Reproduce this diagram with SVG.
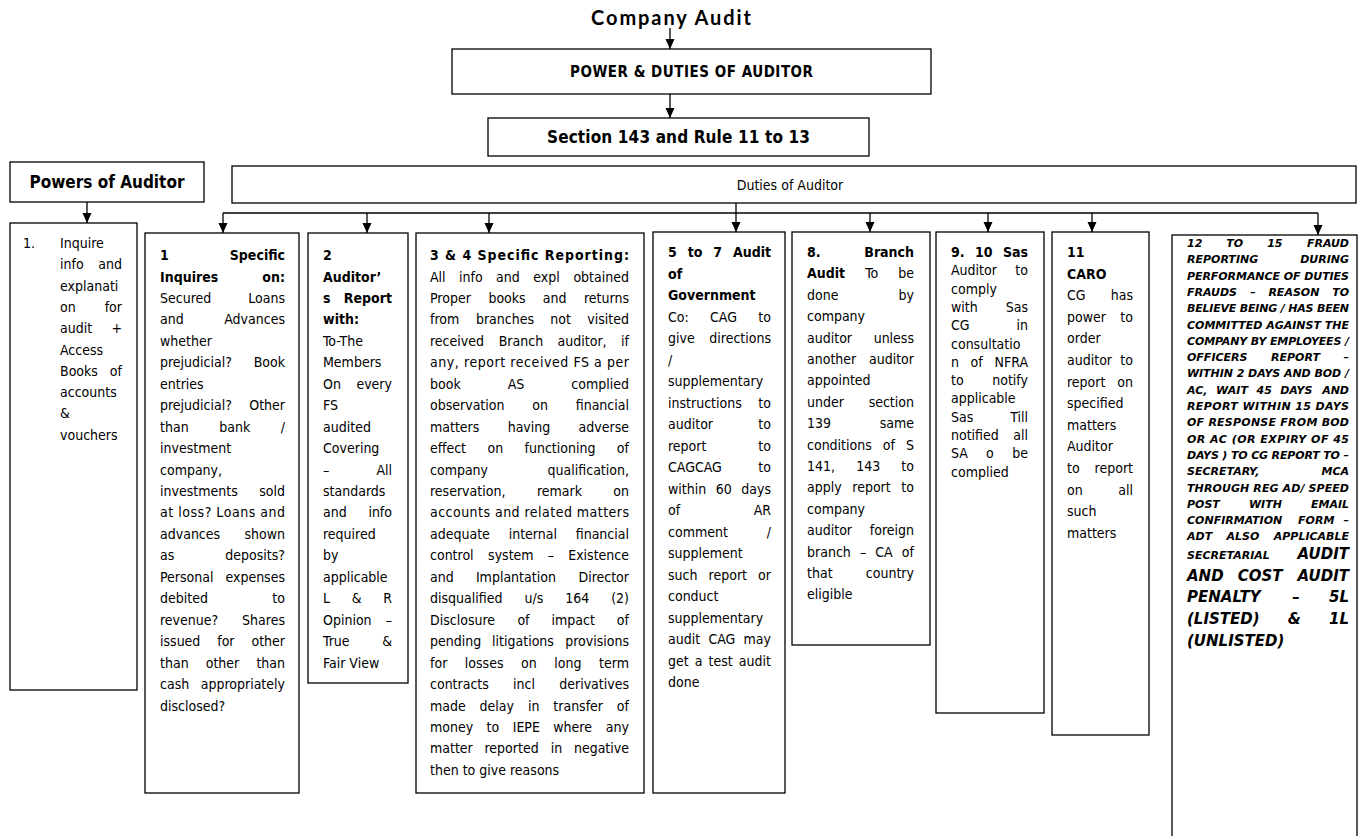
<svg xmlns="http://www.w3.org/2000/svg" width="1363" height="836" viewBox="0 0 1363 836">
<style>
.box{fill:#fff;stroke:#000;stroke-width:1.3}
.t{font-family:"DejaVu Sans Condensed","DejaVu Sans",sans-serif;font-stretch:condensed;font-size:14px;fill:#000}
.b{font-weight:bold}
.e{text-anchor:end}
.m{text-anchor:middle}
.f{font-family:"DejaVu Sans",sans-serif;font-weight:bold;font-style:italic;font-size:11px;fill:#000}
.fl{font-size:15px}
.conn{stroke:#000;stroke-width:1.3;fill:none}
.arr{marker-end:url(#arrow)}
.title{font-family:Lato,"DejaVu Sans",sans-serif;font-weight:bold;font-size:20px;text-anchor:middle;fill:#000}
</style>
<defs>
<marker id="arrow" viewBox="0 0 10 10" refX="10" refY="5" markerWidth="10" markerHeight="10" markerUnits="userSpaceOnUse" orient="auto">
<path d="M0,0.5 L10,5 L0,9.5 z" fill="#000"/>
</marker>
</defs>
<rect width="1363" height="836" fill="#fff"/>

<!-- connectors -->
<g id="connectors">
<path class="conn arr" d="M670,28 V49"/>
<path class="conn arr" d="M670,94 V118"/>
<path class="conn arr" d="M87,202 V223"/>
<path class="conn" d="M223,213 H1318"/>
<path class="conn arr" d="M736,203 V232"/>
<path class="conn arr" d="M223,213 V233"/>
<path class="conn arr" d="M367,213 V233"/>
<path class="conn arr" d="M489,213 V233"/>
<path class="conn arr" d="M870,213 V232"/>
<path class="conn arr" d="M988,213 V232"/>
<path class="conn arr" d="M1092,213 V232"/>
<path class="conn arr" d="M1318,213 V235"/>
</g>

<g id="title">
<text class="title" x="671" y="25" textLength="160" lengthAdjust="spacing">Company Audit</text>
</g>

<g id="power-duties">
<rect class="box" x="452" y="49" width="479" height="45"/>
<text class="t b m" x="691.5" y="77" style="font-size:15px" textLength="243" lengthAdjust="spacing">POWER &amp; DUTIES OF AUDITOR</text>
</g>

<g id="section">
<rect class="box" x="488" y="118" width="381" height="38"/>
<text class="t b m" x="678.5" y="143" style="font-size:17px" textLength="263" lengthAdjust="spacing">Section 143 and Rule 11 to 13</text>
</g>

<g id="powers">
<rect class="box" x="10" y="162" width="194" height="40"/>
<text class="t b m" x="107" y="188" style="font-size:17px">Powers of Auditor</text>
</g>

<g id="duties">
<rect class="box" x="232" y="166" width="1124" height="37"/>
<text class="t m" x="790" y="190">Duties of Auditor</text>
</g>

<!-- powers list -->
<g id="powers-list">
<rect class="box" x="10" y="223" width="127" height="467"/>
<text class="t" x="23" y="248">1.</text>
<text class="t" x="60" y="248">Inquire</text>
<text class="t" x="60" y="269.3">info</text><text class="t e" x="122" y="269.3">and</text>
<text class="t" x="60" y="290.6">explanati</text>
<text class="t" x="60" y="311.9">on</text><text class="t e" x="122" y="311.9">for</text>
<text class="t" x="60" y="333.2">audit</text><text class="t e" x="122" y="333.2">+</text>
<text class="t" x="60" y="354.5">Access</text>
<text class="t" x="60" y="375.8">Books</text><text class="t e" x="122" y="375.8">of</text>
<text class="t" x="60" y="397.1">accounts</text>
<text class="t" x="60" y="418.4">&amp;</text>
<text class="t" x="60" y="439.7">vouchers</text>
</g>

<!-- 1 Specific Inquires -->
<g id="duty-1">
<rect class="box" x="145" y="233" width="154" height="560"/>
<text class="t b" x="160" y="260">1</text><text class="t b e" x="285" y="260">Specific</text>
<text class="t b" x="160" y="281.5">Inquires</text><text class="t b e" x="285" y="281.5">on:</text>
<text class="t" x="160" y="302.9">Secured</text><text class="t e" x="285" y="302.9">Loans</text>
<text class="t" x="160" y="324.4">and</text><text class="t e" x="285" y="324.4">Advances</text>
<text class="t" x="160" y="345.8">whether</text>
<text class="t" x="160" y="367.3">prejudicial?</text><text class="t e" x="285" y="367.3">Book</text>
<text class="t" x="160" y="388.7">entries</text>
<text class="t" x="160" y="410.2">prejudicial?</text><text class="t e" x="285" y="410.2">Other</text>
<text class="t" x="160" y="431.6">than</text><text class="t m" x="234.7" y="431.6">bank</text><text class="t e" x="285" y="431.6">/</text>
<text class="t" x="160" y="453.1">investment</text>
<text class="t" x="160" y="474.5">company,</text>
<text class="t" x="160" y="496">investments</text><text class="t e" x="285" y="496">sold</text>
<text class="t" x="160" y="517.4" textLength="125" lengthAdjust="spacing">at loss? Loans and</text>
<text class="t" x="160" y="538.9">advances</text><text class="t e" x="285" y="538.9">shown</text>
<text class="t" x="160" y="560.3">as</text><text class="t e" x="285" y="560.3">deposits?</text>
<text class="t" x="160" y="581.8">Personal</text><text class="t e" x="285" y="581.8">expenses</text>
<text class="t" x="160" y="603.2">debited</text><text class="t e" x="285" y="603.2">to</text>
<text class="t" x="160" y="624.7">revenue?</text><text class="t e" x="285" y="624.7">Shares</text>
<text class="t" x="160" y="646.1">issued</text><text class="t m" x="225.9" y="646.1">for</text><text class="t e" x="285" y="646.1">other</text>
<text class="t" x="160" y="667.6">than</text><text class="t m" x="222.5" y="667.6">other</text><text class="t e" x="285" y="667.6">than</text>
<text class="t" x="160" y="689">cash</text><text class="t e" x="285" y="689">appropriately</text>
<text class="t" x="160" y="710.5">disclosed?</text>
</g>

<!-- 2 Auditor's Report -->
<g id="duty-2">
<rect class="box" x="308" y="233" width="100" height="450"/>
<text class="t b" x="323" y="260">2</text>
<text class="t b" x="323" y="281.5">Auditor’</text>
<text class="t b" x="323" y="302.9">s</text><text class="t b e" x="392" y="302.9">Report</text>
<text class="t b" x="323" y="324.4">with:</text>
<text class="t" x="323" y="345.8">To-The</text>
<text class="t" x="323" y="367.3">Members</text>
<text class="t" x="323" y="388.7">On</text><text class="t e" x="392" y="388.7">every</text>
<text class="t" x="323" y="410.2">FS</text>
<text class="t" x="323" y="431.6">audited</text>
<text class="t" x="323" y="453.1">Covering</text>
<text class="t" x="323" y="474.5">–</text><text class="t e" x="392" y="474.5">All</text>
<text class="t" x="323" y="496">standards</text>
<text class="t" x="323" y="517.4">and</text><text class="t e" x="392" y="517.4">info</text>
<text class="t" x="323" y="538.9">required</text>
<text class="t" x="323" y="560.3">by</text>
<text class="t" x="323" y="581.8">applicable</text>
<text class="t" x="323" y="603.2">L</text><text class="t m" x="356.6" y="603.2">&amp;</text><text class="t e" x="392" y="603.2">R</text>
<text class="t" x="323" y="624.7">Opinion</text><text class="t e" x="392" y="624.7">–</text>
<text class="t" x="323" y="646.1">True</text><text class="t e" x="392" y="646.1">&amp;</text>
<text class="t" x="323" y="667.6">Fair View</text>
</g>

<!-- 3 & 4 Specific Reporting -->
<g id="duty-3-4">
<rect class="box" x="416" y="233" width="228" height="560"/>
<text class="t b" x="430" y="260" textLength="199" lengthAdjust="spacing">3 &amp; 4 Specific Reporting:</text>
<text class="t" x="430" y="281.5">All</text><text class="t" x="459.1" y="281.5">info</text><text class="t" x="496.1" y="281.5">and</text><text class="t" x="533.3" y="281.5">expl</text><text class="t e" x="629" y="281.5">obtained</text>
<text class="t" x="430" y="302.9">Proper</text><text class="t" x="488.4" y="302.9">books</text><text class="t" x="542.7" y="302.9">and</text><text class="t e" x="629" y="302.9">returns</text>
<text class="t" x="430" y="324.4">from</text><text class="t" x="475.9" y="324.4">branches</text><text class="t" x="550.3" y="324.4">not</text><text class="t e" x="629" y="324.4">visited</text>
<text class="t" x="430" y="345.8">received</text><text class="t" x="498.7" y="345.8">Branch</text><text class="t" x="557.6" y="345.8">auditor,</text><text class="t e" x="629" y="345.8">if</text>
<text class="t" x="430" y="367.3" textLength="199" lengthAdjust="spacing">any, report received FS a per</text>
<text class="t" x="430" y="388.7">book</text><text class="t m" x="516" y="388.7">AS</text><text class="t e" x="629" y="388.7">complied</text>
<text class="t" x="430" y="410.2">observation</text><text class="t m" x="540.1" y="410.2">on</text><text class="t e" x="629" y="410.2">financial</text>
<text class="t" x="430" y="431.6">matters</text><text class="t m" x="529" y="431.6">having</text><text class="t e" x="629" y="431.6">adverse</text>
<text class="t" x="430" y="453.1">effect</text><text class="t" x="487.5" y="453.1">on</text><text class="t" x="524.5" y="453.1">functioning</text><text class="t e" x="629" y="453.1">of</text>
<text class="t" x="430" y="474.5">company</text><text class="t e" x="629" y="474.5">qualification,</text>
<text class="t" x="430" y="496">reservation,</text><text class="t m" x="559.5" y="496">remark</text><text class="t e" x="629" y="496">on</text>
<text class="t" x="430" y="517.4" textLength="199" lengthAdjust="spacing">accounts and related matters</text>
<text class="t" x="430" y="538.9">adequate</text><text class="t m" x="532.8" y="538.9">internal</text><text class="t e" x="629" y="538.9">financial</text>
<text class="t" x="430" y="560.3">control</text><text class="t" x="488.1" y="560.3">system</text><text class="t" x="547.7" y="560.3">–</text><text class="t e" x="629" y="560.3">Existence</text>
<text class="t" x="430" y="581.8">and</text><text class="t m" x="515.9" y="581.8">Implantation</text><text class="t e" x="629" y="581.8">Director</text>
<text class="t" x="430" y="603.2">disqualified</text><text class="t" x="524.5" y="603.2">u/s</text><text class="t" x="565.3" y="603.2">164</text><text class="t e" x="629" y="603.2">(2)</text>
<text class="t" x="430" y="624.7">Disclosure</text><text class="t" x="517.4" y="624.7">of</text><text class="t" x="551.5" y="624.7">impact</text><text class="t e" x="629" y="624.7">of</text>
<text class="t" x="430" y="646.1">pending</text><text class="t m" x="523" y="646.1">litigations</text><text class="t e" x="629" y="646.1">provisions</text>
<text class="t" x="430" y="667.6">for</text><text class="t" x="464.8" y="667.6">losses</text><text class="t" x="521" y="667.6">on</text><text class="t" x="554.2" y="667.6">long</text><text class="t e" x="629" y="667.6">term</text>
<text class="t" x="430" y="689">contracts</text><text class="t m" x="524" y="689">incl</text><text class="t e" x="629" y="689">derivatives</text>
<text class="t" x="430" y="710.5">made</text><text class="t" x="479.6" y="710.5">delay</text><text class="t" x="527.9" y="710.5">in</text><text class="t" x="553.3" y="710.5">transfer</text><text class="t e" x="629" y="710.5">of</text>
<text class="t" x="430" y="731.9">money</text><text class="t" x="486.6" y="731.9">to</text><text class="t" x="512.7" y="731.9">IEPE</text><text class="t" x="553.3" y="731.9">where</text><text class="t e" x="629" y="731.9">any</text>
<text class="t" x="430" y="753.4">matter</text><text class="t" x="484.5" y="753.4">reported</text><text class="t" x="550.7" y="753.4">in</text><text class="t e" x="629" y="753.4">negative</text>
<text class="t" x="430" y="774.8">then to give reasons</text>
</g>

<!-- 5 to 7 Audit of Government Co -->
<g id="duty-5-7">
<rect class="box" x="653" y="232" width="132" height="561"/>
<text class="t b" x="668" y="257">5</text><text class="t b" x="687.7" y="257">to</text><text class="t b" x="713.3" y="257">7</text><text class="t b e" x="771" y="257">Audit</text>
<text class="t b" x="668" y="278.5">of</text>
<text class="t b" x="668" y="300">Government</text>
<text class="t" x="668" y="321.5">Co:</text><text class="t m" x="723.5" y="321.5">CAG</text><text class="t e" x="771" y="321.5">to</text>
<text class="t" x="668" y="343">give</text><text class="t e" x="771" y="343">directions</text>
<text class="t" x="668" y="364.5">/</text>
<text class="t" x="668" y="386">supplementary</text>
<text class="t" x="668" y="407.5">instructions</text><text class="t e" x="771" y="407.5">to</text>
<text class="t" x="668" y="429">auditor</text><text class="t e" x="771" y="429">to</text>
<text class="t" x="668" y="450.5">report</text><text class="t e" x="771" y="450.5">to</text>
<text class="t" x="668" y="472">CAGCAG</text><text class="t e" x="771" y="472">to</text>
<text class="t" x="668" y="493.5">within</text><text class="t m" x="723.8" y="493.5">60</text><text class="t e" x="771" y="493.5">days</text>
<text class="t" x="668" y="515">of</text><text class="t e" x="771" y="515">AR</text>
<text class="t" x="668" y="536.5">comment</text><text class="t e" x="771" y="536.5">/</text>
<text class="t" x="668" y="558">supplement</text>
<text class="t" x="668" y="579.5">such</text><text class="t m" x="727.8" y="579.5">report</text><text class="t e" x="771" y="579.5">or</text>
<text class="t" x="668" y="601">conduct</text>
<text class="t" x="668" y="622.5">supplementary</text>
<text class="t" x="668" y="644">audit</text><text class="t m" x="721.9" y="644">CAG</text><text class="t e" x="771" y="644">may</text>
<text class="t" x="668" y="665.5">get</text><text class="t" x="694.8" y="665.5">a</text><text class="t" x="708.6" y="665.5">test</text><text class="t e" x="771" y="665.5">audit</text>
<text class="t" x="668" y="687">done</text>
</g>

<!-- 8 Branch Audit -->
<g id="duty-8">
<rect class="box" x="792" y="232" width="138" height="413"/>
<text class="t b" x="807" y="257">8.</text><text class="t b e" x="914" y="257">Branch</text>
<text class="t b" x="807" y="278.4">Audit</text><text class="t m" x="871.7" y="278.4">To</text><text class="t e" x="914" y="278.4">be</text>
<text class="t" x="807" y="299.8">done</text><text class="t e" x="914" y="299.8">by</text>
<text class="t" x="807" y="321.2">company</text>
<text class="t" x="807" y="342.6">auditor</text><text class="t e" x="914" y="342.6">unless</text>
<text class="t" x="807" y="364">another</text><text class="t e" x="914" y="364">auditor</text>
<text class="t" x="807" y="385.4">appointed</text>
<text class="t" x="807" y="406.8">under</text><text class="t e" x="914" y="406.8">section</text>
<text class="t" x="807" y="428.2">139</text><text class="t e" x="914" y="428.2">same</text>
<text class="t" x="807" y="449.6">conditions</text><text class="t m" x="888.9" y="449.6">of</text><text class="t e" x="914" y="449.6">S</text>
<text class="t" x="807" y="471">141,</text><text class="t m" x="868.2" y="471">143</text><text class="t e" x="914" y="471">to</text>
<text class="t" x="807" y="492.4">apply</text><text class="t m" x="871.5" y="492.4">report</text><text class="t e" x="914" y="492.4">to</text>
<text class="t" x="807" y="513.8">company</text>
<text class="t" x="807" y="535.2">auditor</text><text class="t e" x="914" y="535.2">foreign</text>
<text class="t" x="807" y="556.6">branch</text><text class="t" x="859.9" y="556.6">–</text><text class="t" x="875.3" y="556.6">CA</text><text class="t e" x="914" y="556.6">of</text>
<text class="t" x="807" y="578">that</text><text class="t e" x="914" y="578">country</text>
<text class="t" x="807" y="599.4">eligible</text>
</g>

<!-- 9, 10 SAs -->
<g id="duty-9-10">
<rect class="box" x="936" y="232" width="108" height="481"/>
<text class="t b" x="951" y="257">9.</text><text class="t b" x="975" y="257">10</text><text class="t b e" x="1028" y="257">Sas</text>
<text class="t" x="951" y="275.3">Auditor</text><text class="t e" x="1028" y="275.3">to</text>
<text class="t" x="951" y="293.6">comply</text>
<text class="t" x="951" y="311.9">with</text><text class="t e" x="1028" y="311.9">Sas</text>
<text class="t" x="951" y="330.2">CG</text><text class="t e" x="1028" y="330.2">in</text>
<text class="t" x="951" y="348.5">consultatio</text>
<text class="t" x="951" y="366.8">n</text><text class="t m" x="976.5" y="366.8">of</text><text class="t e" x="1028" y="366.8">NFRA</text>
<text class="t" x="951" y="385.1">to</text><text class="t e" x="1028" y="385.1">notify</text>
<text class="t" x="951" y="403.4">applicable</text>
<text class="t" x="951" y="421.7">Sas</text><text class="t e" x="1028" y="421.7">Till</text>
<text class="t" x="951" y="440">notified</text><text class="t e" x="1028" y="440">all</text>
<text class="t" x="951" y="458.3">SA</text><text class="t m" x="989.9" y="458.3">o</text><text class="t e" x="1028" y="458.3">be</text>
<text class="t" x="951" y="476.6">complied</text>
</g>

<!-- 11 CARO -->
<g id="duty-11">
<rect class="box" x="1052" y="232" width="97" height="503"/>
<text class="t b" x="1067" y="257">11</text>
<text class="t b" x="1067" y="278.6">CARO</text>
<text class="t" x="1067" y="300.2">CG</text><text class="t e" x="1133" y="300.2">has</text>
<text class="t" x="1067" y="321.8">power</text><text class="t e" x="1133" y="321.8">to</text>
<text class="t" x="1067" y="343.4">order</text>
<text class="t" x="1067" y="365">auditor</text><text class="t e" x="1133" y="365">to</text>
<text class="t" x="1067" y="386.6">report</text><text class="t e" x="1133" y="386.6">on</text>
<text class="t" x="1067" y="408.2">specified</text>
<text class="t" x="1067" y="429.8">matters</text>
<text class="t" x="1067" y="451.4">Auditor</text>
<text class="t" x="1067" y="473">to</text><text class="t e" x="1133" y="473">report</text>
<text class="t" x="1067" y="494.6">on</text><text class="t e" x="1133" y="494.6">all</text>
<text class="t" x="1067" y="516.2">such</text>
<text class="t" x="1067" y="537.8">matters</text>
</g>

<!-- 12 to 15 Fraud reporting -->
<g id="duty-12-15">
<rect class="box" x="1172" y="235" width="185" height="620"/>
<text class="f" x="1187" y="247">12</text><text class="f" x="1226.3" y="247">TO</text><text class="f" x="1267.2" y="247">15</text><text class="f e" x="1349" y="247">FRAUD</text>
<text class="f" x="1187" y="263.3">REPORTING</text><text class="f e" x="1349" y="263.3">DURING</text>
<text class="f" x="1187" y="279.6" textLength="162" lengthAdjust="spacing">PERFORMANCE OF DUTIES</text>
<text class="f" x="1187" y="295.9">FRAUDS</text><text class="f" x="1250.2" y="295.9">–</text><text class="f" x="1268.4" y="295.9">REASON</text><text class="f e" x="1349" y="295.9">TO</text>
<text class="f" x="1187" y="312.2" textLength="162" lengthAdjust="spacing">BELIEVE BEING / HAS BEEN</text>
<text class="f" x="1187" y="328.5" textLength="162" lengthAdjust="spacing">COMMITTED AGAINST THE</text>
<text class="f" x="1187" y="344.8" textLength="162" lengthAdjust="spacing">COMPANY BY EMPLOYEES /</text>
<text class="f" x="1187" y="361.1">OFFICERS</text><text class="f m" x="1295.5" y="361.1">REPORT</text><text class="f e" x="1349" y="361.1">–</text>
<text class="f" x="1187" y="377.4" textLength="162" lengthAdjust="spacing">WITHIN 2 DAYS AND BOD /</text>
<text class="f" x="1187" y="393.7">AC,</text><text class="f" x="1216.1" y="393.7">WAIT</text><text class="f" x="1256.6" y="393.7">45</text><text class="f" x="1280.2" y="393.7">DAYS</text><text class="f e" x="1349" y="393.7">AND</text>
<text class="f" x="1187" y="410" textLength="162" lengthAdjust="spacing">REPORT WITHIN 15 DAYS</text>
<text class="f" x="1187" y="426.3" textLength="162" lengthAdjust="spacing">OF RESPONSE FROM BOD</text>
<text class="f" x="1187" y="442.6" textLength="162" lengthAdjust="spacing">OR AC (OR EXPIRY OF 45</text>
<text class="f" x="1187" y="458.9" textLength="162" lengthAdjust="spacing">DAYS ) TO CG REPORT TO –</text>
<text class="f" x="1187" y="475.2">SECRETARY,</text><text class="f e" x="1349" y="475.2">MCA</text>
<text class="f" x="1187" y="491.5" textLength="162" lengthAdjust="spacing">THROUGH REG AD/ SPEED</text>
<text class="f" x="1187" y="507.8">POST</text><text class="f m" x="1265.4" y="507.8">WITH</text><text class="f e" x="1349" y="507.8">EMAIL</text>
<text class="f" x="1187" y="524.1">CONFIRMATION</text><text class="f m" x="1316.2" y="524.1">FORM</text><text class="f e" x="1349" y="524.1">–</text>
<text class="f" x="1187" y="540.4">ADT</text><text class="f m" x="1243" y="540.4">ALSO</text><text class="f e" x="1349" y="540.4">APPLICABLE</text>
<text class="f" x="1187" y="558.5">SECRETARIAL</text><text class="f fl e" x="1349" y="558.5">AUDIT</text>
<text class="f fl" x="1187" y="580.5">AND</text><text class="f fl m" x="1260.1" y="580.5">COST</text><text class="f fl e" x="1349" y="580.5">AUDIT</text>
<text class="f fl" x="1187" y="601.5">PENALTY</text><text class="f fl m" x="1296" y="601.5">–</text><text class="f fl e" x="1349" y="601.5">5L</text>
<text class="f fl" x="1187" y="623.5">(LISTED)</text><text class="f fl m" x="1294.3" y="623.5">&amp;</text><text class="f fl e" x="1349" y="623.5">1L</text>
<text class="f fl" x="1187" y="645.5">(UNLISTED)</text>
</g>
</svg>
